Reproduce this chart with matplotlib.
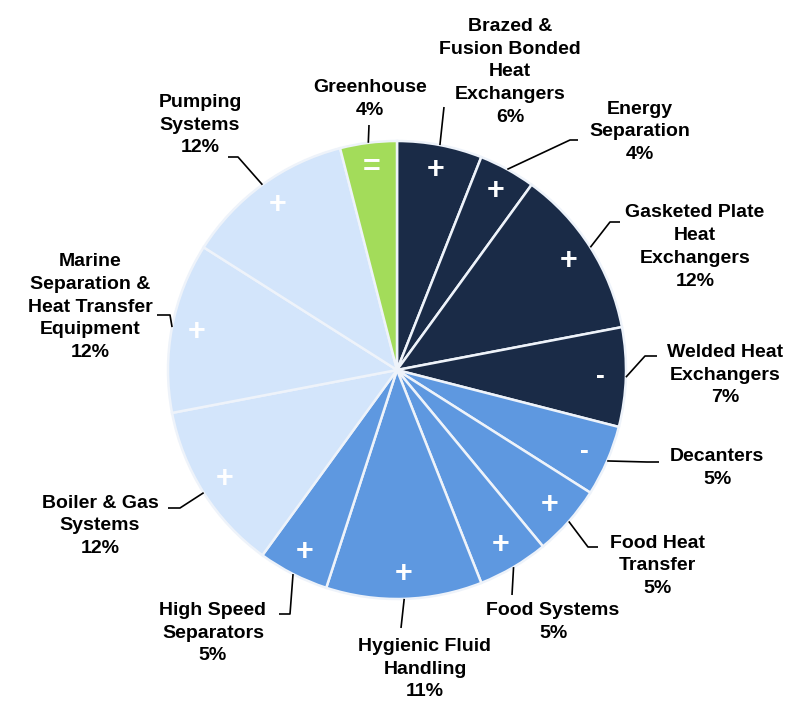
import numpy as np
import matplotlib.pyplot as plt

plt.rcParams['font.family'] = ['Liberation Sans', 'DejaVu Sans']

# slice data, clockwise from 12 o'clock
labels = ['Brazed &\nFusion Bonded\nHeat\nExchangers', 'Energy\nSeparation',
          'Gasketed Plate\nHeat\nExchangers', 'Welded Heat\nExchangers', 'Decanters',
          'Food Heat\nTransfer', 'Food Systems', 'Hygienic Fluid\nHandling',
          'High Speed\nSeparators', 'Boiler & Gas\nSystems',
          'Marine\nSeparation &\nHeat Transfer\nEquipment', 'Pumping\nSystems', 'Greenhouse']
shares = [6, 4, 12, 7, 5, 5, 5, 11, 5, 12, 12, 12, 4]
signs = ['+', '+', '+', '-', '-', '+', '+', '+', '+', '+', '+', '+', '=']
groups = ['navy', 'navy', 'navy', 'navy', 'blue', 'blue', 'blue', 'blue', 'blue',
          'light', 'light', 'light', 'green']

palette = {'navy': '#1a2b47', 'blue': '#5e98e0', 'light': '#d3e5fb', 'green': '#a3dc5a'}

# label layout in pixels: text centre and leader elbows (after the pie edge point)
text_px = [(510, 72), (640, 132), (695, 247), (725, 375), (717, 468), (657, 566),
           (553, 622), (425, 669), (213, 633), (100, 526), (90, 307), (200, 125), (370, 99)]
elbow_px = [[(444, 107)], [(570, 140), (578, 140)], [(610, 222), (620, 222)],
            [(645, 356), (657, 356)], [(647, 462), (659, 462)], [(588, 547), (598, 547)],
            [(512, 595)], [(401, 628)], [(290, 614), (279, 614)], [(180, 508), (168, 508)],
            [(170, 315), (157, 315)], [(238, 157), (228, 157)], [(369, 125)]]

W, H = 794, 704
cx, cy, R = 397, 370, 229


def to_data(p):
    return ((p[0] - cx) / R, (cy - p[1]) / R)


fig = plt.figure(figsize=(W / 100, H / 100), dpi=100)
ax = fig.add_axes([0, 0, 1, 1])

ax.pie(shares, colors=[palette[g] for g in groups], startangle=90, counterclock=False,
       radius=1, wedgeprops=dict(edgecolor='#eef3fa', linewidth=1.8))

ax.set_xlim(-cx / R, (W - cx) / R)
ax.set_ylim((cy - H) / R, cy / R)
ax.set_aspect('equal')
ax.axis('off')

total = sum(shares)
cum = np.cumsum([0] + shares[:-1])
for i, lab in enumerate(labels):
    mid = np.deg2rad(90 - (cum[i] + shares[i] / 2) / total * 360)
    # sign inside slice
    ax.text(0.89 * np.cos(mid), 0.89 * np.sin(mid), signs[i], color='white',
            fontsize=22 if signs[i] != '-' else 19, fontweight='bold',
            ha='center', va='center')
    # leader line
    pts = [(np.cos(mid), np.sin(mid))] + [to_data(p) for p in elbow_px[i]]
    xs, ys = zip(*pts)
    ax.plot(xs, ys, color='black', lw=1.2, solid_capstyle='butt')
    tx, ty = to_data(text_px[i])
    ax.text(tx, ty, f'{lab}\n{shares[i]}%', fontsize=14, fontweight='bold',
            ha='center', va='center', linespacing=1.45, color='black')

plt.savefig('out.png', dpi=100)
